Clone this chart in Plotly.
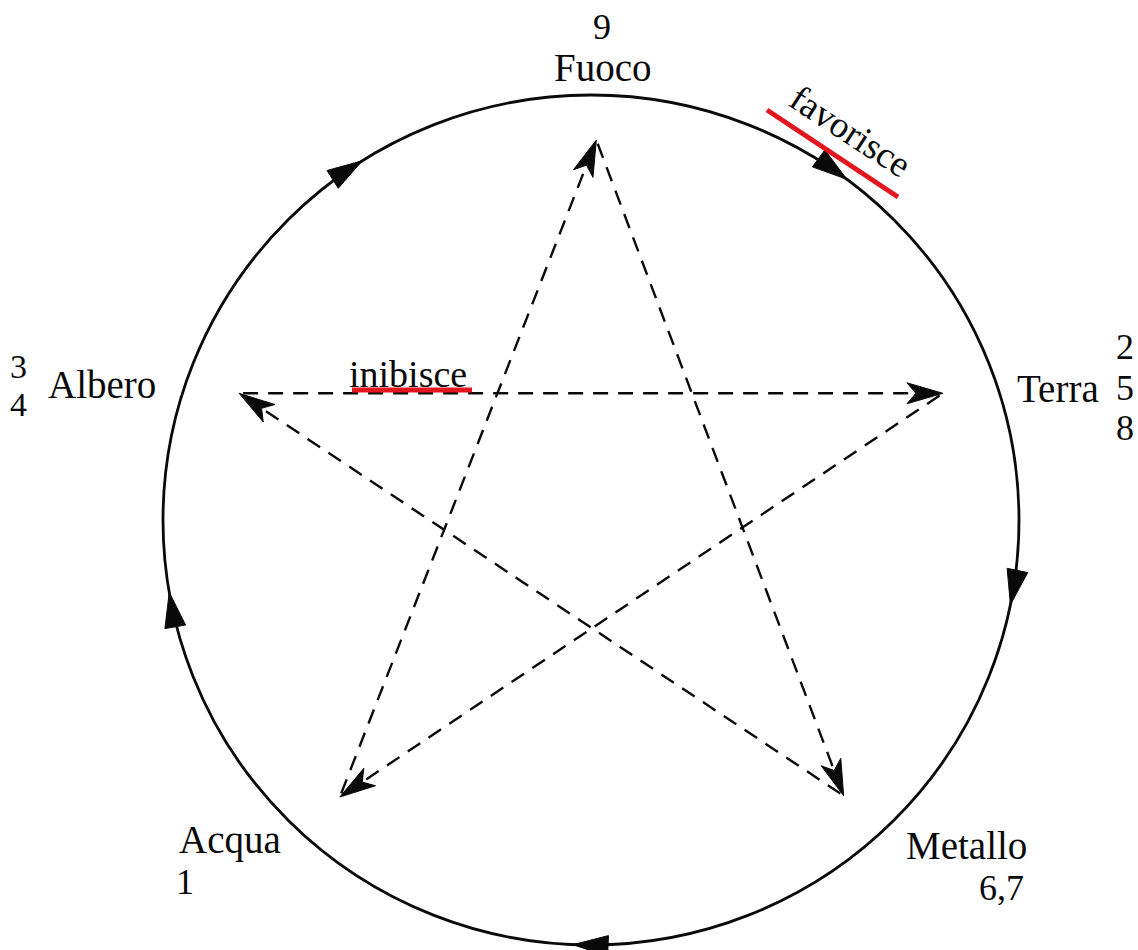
import math
import plotly.graph_objects as go

# ---------------- data ----------------
elements = ["Fuoco", "Terra", "Metallo", "Acqua", "Albero"]
element_numbers = [["9"], ["2", "5", "8"], ["6,7"], ["1"], ["3", "4"]]
# generating cycle (outer circle, "favorisce")
generating_from = ["Fuoco", "Terra", "Metallo", "Acqua", "Albero"]
generating_to = ["Terra", "Metallo", "Acqua", "Albero", "Fuoco"]
# controlling cycle (inner star, "inibisce")
controlling_from = ["Albero", "Terra", "Acqua", "Fuoco", "Metallo"]
controlling_to = ["Terra", "Acqua", "Fuoco", "Metallo", "Albero"]
label_generating = "favorisce"
label_controlling = "inibisce"

# ---------------- geometry / style ----------------
W, H = 1138, 950
CX, CY = 591, 520
RX, RY = 428, 425
vertex_angle = {"Fuoco": 89.2, "Terra": 19.8, "Metallo": -47.5, "Acqua": -132.2, "Albero": 160.2}
vertex_radius = {"Fuoco": 380, "Terra": 374, "Metallo": 374, "Acqua": 374, "Albero": 374}
gen_arrow_angle = {"Fuoco": 53.3, "Terra": -11.5, "Metallo": -92.4, "Acqua": 189.8, "Albero": 122.3}
FONT = "Liberation Serif, Times New Roman, serif"
INK = "#0a0a0a"
RED = "#e3161f"


def vertex(name):
    t = math.radians(vertex_angle[name])
    r = vertex_radius[name]
    return CX + r * math.cos(t), CY - r * math.sin(t)


def circ_pt(theta):
    t = math.radians(theta)
    return CX + RX * math.cos(t), CY - RY * math.sin(t)


def head_path(tip, d, length, half, notch=0.0):
    ux, uy = d
    n = math.hypot(ux, uy)
    ux, uy = ux / n, uy / n
    px, py = -uy, ux
    tx, ty = tip
    bx, by = tx - length * ux, ty - length * uy
    pts = [tip, (bx + half * px, by + half * py)]
    if notch:
        pts.append((tx - (length - notch) * ux, ty - (length - notch) * uy))
    pts.append((bx - half * px, by - half * py))
    return "M" + " L".join(f"{x:.2f},{y:.2f}" for x, y in pts) + " Z"


fig = go.Figure()
shapes = []

# outer circle
shapes.append(dict(type="circle", xref="x", yref="y", x0=CX - RX, x1=CX + RX,
                   y0=CY - RY, y1=CY + RY, line=dict(color=INK, width=2.8)))

# circle arrowheads (clockwise on screen)
for src in generating_from:
    th = gen_arrow_angle[src]
    tip = circ_pt(th)
    t = math.radians(th)
    d = (RX * math.sin(t), RY * math.cos(t))
    shapes.append(dict(type="path", xref="x", yref="y", path=head_path(tip, d, 35, 10.5),
                       fillcolor=INK, line=dict(color=INK, width=1)))

# star dashed lines with arrowheads
for a, b in zip(controlling_from, controlling_to):
    sx, sy = vertex(a)
    ex, ey = vertex(b)
    dx, dy = ex - sx, ey - sy
    L = math.hypot(dx, dy)
    ux, uy = dx / L, dy / L
    fig.add_trace(go.Scatter(
        x=[sx + 4 * ux, ex - 14 * ux], y=[sy + 4 * uy, ey - 14 * uy], mode="lines",
        line=dict(color=INK, width=2.4, dash="15px,10px"), hoverinfo="skip"))
    shapes.append(dict(type="path", xref="x", yref="y",
                       path=head_path((ex, ey), (dx, dy), 36, 10.5, notch=9),
                       fillcolor=INK, line=dict(color=INK, width=1)))

# red underlines
shapes.append(dict(type="line", xref="x", yref="y", x0=767, y0=110, x1=898, y1=197,
                   line=dict(color=RED, width=5)))
shapes.append(dict(type="line", xref="x", yref="y", x0=352, y0=390, x1=472, y1=390,
                   line=dict(color=RED, width=5)))

annotations = []


def txt(s, x, y, size, angle=0, xanchor="center"):
    annotations.append(dict(text=s, x=x, y=y, xref="x", yref="y", showarrow=False,
                            xanchor=xanchor, yanchor="middle", textangle=angle,
                            font=dict(family=FONT, size=size, color=INK)))


name_pos = {"Fuoco": (603, 67), "Terra": (1058, 388), "Metallo": (966, 845),
            "Acqua": (230, 840), "Albero": (102, 384)}
num_pos = {"Fuoco": [(602, 27)], "Terra": [(1125, 347), (1125, 388), (1125, 428)],
           "Metallo": [(1001, 888)], "Acqua": [(185, 882)], "Albero": [(18, 366), (18, 404)]}
num_size = {"Fuoco": 36, "Terra": 36, "Metallo": 36, "Acqua": 36, "Albero": 34}

for el, nums in zip(elements, element_numbers):
    x, y = name_pos[el]
    txt(el, x, y, 39)
    for s, (nx, ny) in zip(nums, num_pos[el]):
        txt(s, nx, ny, num_size[el])

txt(label_generating, 851, 131, 37, angle=33)
txt(label_controlling, 408, 374, 38)

fig.update_layout(
    width=W, height=H, margin=dict(l=0, r=0, t=0, b=0),
    paper_bgcolor="white", plot_bgcolor="white", showlegend=False,
    xaxis=dict(range=[0, W], visible=False, fixedrange=True),
    yaxis=dict(range=[H, 0], visible=False, fixedrange=True),
    shapes=shapes, annotations=annotations,
)

fig.write_html("out.html", config={"displayModeBar": False},
               post_script="document.body.style.margin='0';")
